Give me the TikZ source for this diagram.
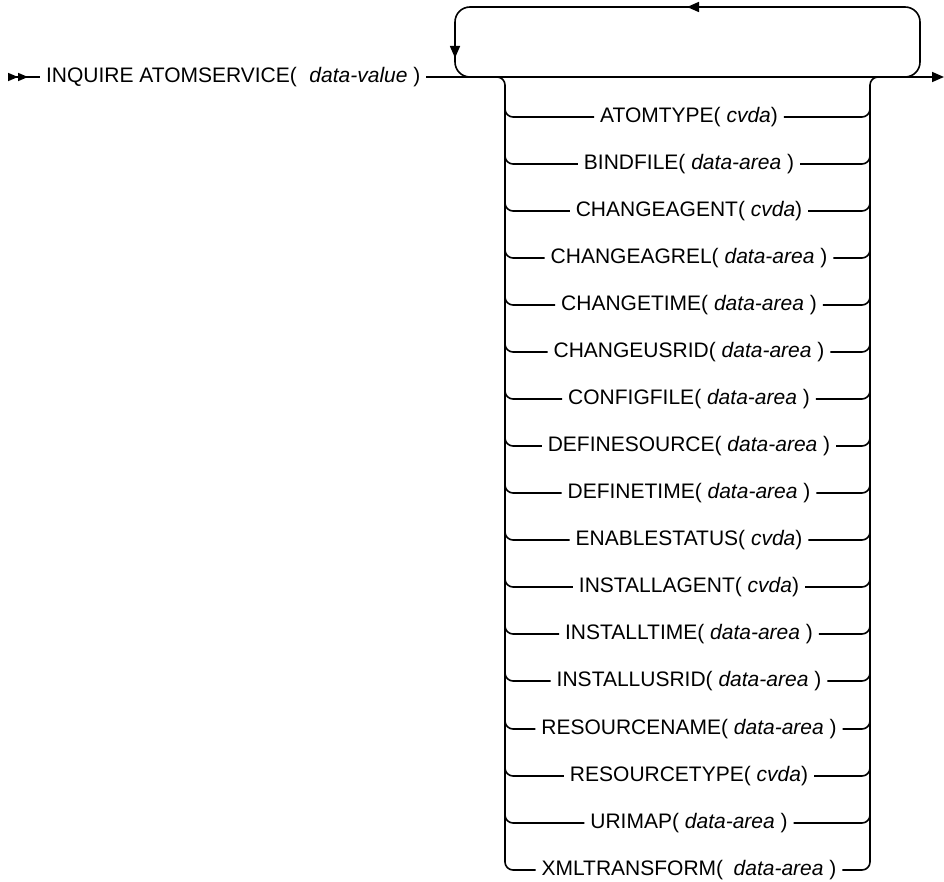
\documentclass[tikz,border=0pt]{standalone}
\usepackage{fontspec}
\setmainfont{Liberation Sans}
\usetikzlibrary{arrows.meta}

\begin{document}
\begin{tikzpicture}[x=1pt,y=-1pt,line width=1.6pt,
  opt/.style={inner sep=6pt,outer sep=0pt,font=\fontsize{21}{25}\selectfont},
  fwd/.style={-{Triangle[length=12pt,width=10pt]}},
  rail/.style={rounded corners=8pt}]
  \useasboundingbox (0,0) rectangle (944,882);
  %% main line
  \coordinate (start) at (8,77);
  \coordinate (stop) at (944,77);
  \node[opt,right] at (40,77) (inquire) {INQUIRE ATOMSERVICE(\hspace{0.6em}\textit{data-value} )};
  \draw[{Triangle[length=10pt,width=8pt,reversed]Triangle[length=10pt,width=8pt,reversed]}-] (start) -- (inquire.west);
  \draw[fwd] (inquire.east) -- (stop);
  %% repeat loop
  \draw[rounded corners=15pt] (890,77) -| (920,7) -| (455,77) -- (480,77);
  \draw[fwd] (702,7) -- (687,7);
  \draw[fwd] (455,42) -- (455,58);
  %% options
  \node[opt] at (689,117) (atomtype) {ATOMTYPE( \textit{cvda})};
  \node[opt] at (689,164) (bindfile) {BINDFILE( \textit{data-area} )};
  \node[opt] at (689,211) (changeagent) {CHANGEAGENT( \textit{cvda})};
  \node[opt] at (689,258) (changeagrel) {CHANGEAGREL( \textit{data-area} )};
  \node[opt] at (689,305) (changetime) {CHANGETIME( \textit{data-area} )};
  \node[opt] at (689,352) (changeusrid) {CHANGEUSRID( \textit{data-area} )};
  \node[opt] at (689,399) (configfile) {CONFIGFILE( \textit{data-area} )};
  \node[opt] at (689,446) (definesource) {DEFINESOURCE( \textit{data-area} )};
  \node[opt] at (689,493) (definetime) {DEFINETIME( \textit{data-area} )};
  \node[opt] at (689,540) (enablestatus) {ENABLESTATUS( \textit{cvda})};
  \node[opt] at (689,587) (installagent) {INSTALLAGENT( \textit{cvda})};
  \node[opt] at (689,634) (installtime) {INSTALLTIME( \textit{data-area} )};
  \node[opt] at (689,681) (installusrid) {INSTALLUSRID( \textit{data-area} )};
  \node[opt] at (689,729) (resourcename) {RESOURCENAME( \textit{data-area} )};
  \node[opt] at (689,776) (resourcetype) {RESOURCETYPE( \textit{cvda})};
  \node[opt] at (689,823) (urimap) {URIMAP( \textit{data-area} )};
  \node[opt] at (689,870) (xmltransform) {XMLTRANSFORM(\hspace{0.5em}\textit{data-area} )};

  %% branch rails
  \draw[rail] (490,77) -| (505,870) -- (xmltransform.west);
  \draw[rail] (xmltransform.east) -| (870,77) -- (885,77);

  \draw[rail] (505,97) |- (atomtype.west);       \draw[rail] (atomtype.east) -| (870,97);
  \draw[rail] (505,144) |- (bindfile.west);      \draw[rail] (bindfile.east) -| (870,144);
  \draw[rail] (505,191) |- (changeagent.west);   \draw[rail] (changeagent.east) -| (870,191);
  \draw[rail] (505,238) |- (changeagrel.west);   \draw[rail] (changeagrel.east) -| (870,238);
  \draw[rail] (505,285) |- (changetime.west);    \draw[rail] (changetime.east) -| (870,285);
  \draw[rail] (505,332) |- (changeusrid.west);   \draw[rail] (changeusrid.east) -| (870,332);
  \draw[rail] (505,379) |- (configfile.west);    \draw[rail] (configfile.east) -| (870,379);
  \draw[rail] (505,426) |- (definesource.west);  \draw[rail] (definesource.east) -| (870,426);
  \draw[rail] (505,473) |- (definetime.west);    \draw[rail] (definetime.east) -| (870,473);
  \draw[rail] (505,520) |- (enablestatus.west);  \draw[rail] (enablestatus.east) -| (870,520);
  \draw[rail] (505,567) |- (installagent.west);  \draw[rail] (installagent.east) -| (870,567);
  \draw[rail] (505,614) |- (installtime.west);   \draw[rail] (installtime.east) -| (870,614);
  \draw[rail] (505,661) |- (installusrid.west);  \draw[rail] (installusrid.east) -| (870,661);
  \draw[rail] (505,709) |- (resourcename.west);  \draw[rail] (resourcename.east) -| (870,709);
  \draw[rail] (505,756) |- (resourcetype.west);  \draw[rail] (resourcetype.east) -| (870,756);
  \draw[rail] (505,803) |- (urimap.west);        \draw[rail] (urimap.east) -| (870,803);
\end{tikzpicture}
\end{document}
